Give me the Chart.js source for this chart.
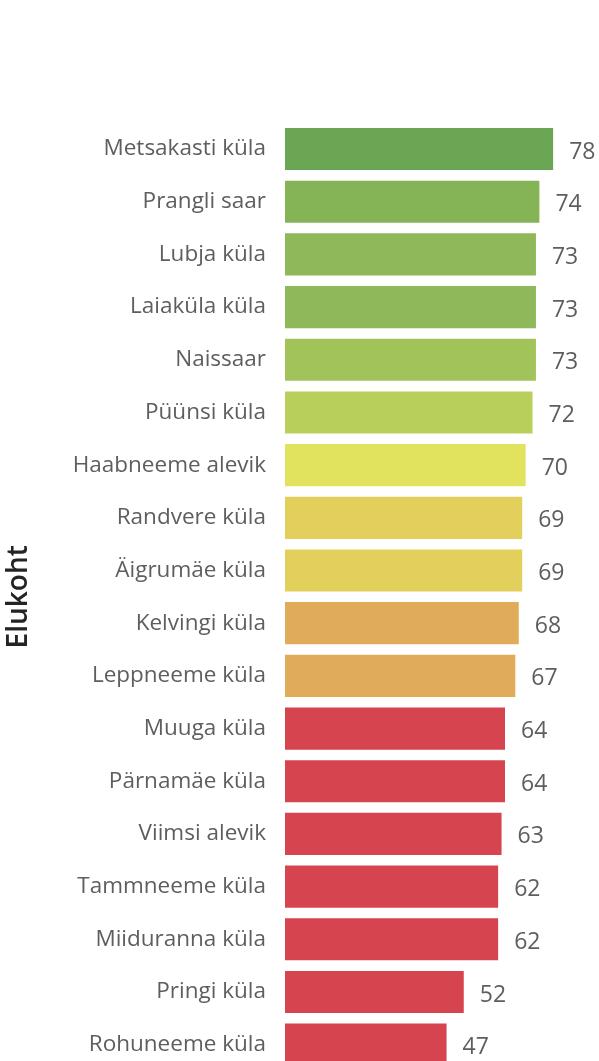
<!DOCTYPE html>
<html>
<head>
<meta charset="utf-8">
<title>Elukoht</title>
<script src="https://cdn.jsdelivr.net/npm/chart.js@4.4.1/dist/chart.umd.min.js"></script>
<style>
    html, body { margin: 0; padding: 0; background: #fff; overflow: hidden; }
    #barChart { position: absolute; left: 0; top: 0; }
</style>
</head>
<body>
<canvas id="barChart" width="599" height="1071"></canvas>
<script>
// places and their scores
const places = [
    'Metsakasti küla', 'Prangli saar', 'Lubja küla', 'Laiaküla küla', 'Naissaar',
    'Püünsi küla', 'Haabneeme alevik', 'Randvere küla', 'Äigrumäe küla', 'Kelvingi küla',
    'Leppneeme küla', 'Muuga küla', 'Pärnamäe küla', 'Viimsi alevik', 'Tammneeme küla',
    'Miiduranna küla', 'Pringi küla', 'Rohuneeme küla'
];
const scores = [78, 74, 73, 73, 73, 72, 70, 69, 69, 68, 67, 64, 64, 63, 62, 62, 52, 47];
const barColors = [
    '#6aa654', '#84b456', '#8fb858', '#8fb858', '#a2c35a',
    '#b9cf5c', '#e1e35f', '#e3cf5c', '#e3cf5c', '#e1ac59',
    '#e1ac59', '#d6454f', '#d6454f', '#d6454f', '#d6454f',
    '#d6454f', '#d6454f', '#d6454f'
];
const axisTitle = 'Elukoht';

const FONT = '"Segoe UI", "Open Sans", sans-serif';

// writes the value just past the end of each bar
const valueLabels = {
    id: 'valueLabels',
    afterDatasetsDraw(chart) {
        const ctx = chart.ctx;
        const meta = chart.getDatasetMeta(0);
        ctx.save();
        ctx.font = '23px ' + FONT;
        ctx.fillStyle = '#605e5c';
        ctx.textAlign = 'left';
        ctx.textBaseline = 'middle';
        meta.data.forEach((bar, i) => {
            ctx.fillText(chart.data.datasets[0].data[i], bar.x + 16, bar.y + 3);
        });
        ctx.restore();
    }
};

new Chart(document.getElementById('barChart'), {
    type: 'bar',
    data: {
        labels: places,
        datasets: [{
            data: scores,
            backgroundColor: barColors,
            borderWidth: 0,
            barPercentage: 0.8,
            categoryPercentage: 1.0
        }]
    },
    options: {
        indexAxis: 'y',
        responsive: false,
        animation: false,
        devicePixelRatio: 1,
        layout: { padding: { top: 122.7, right: 39, bottom: 0, left: 0 } },
        plugins: {
            legend: { display: false },
            tooltip: { enabled: false }
        },
        scales: {
            x: {
                display: false,
                min: 0,
                max: 80
            },
            y: {
                afterFit(scale) {
                    // fixed label column, and let the last row run to the bottom edge
                    scale.width = 285;
                    scale.paddingTop = 0;
                    scale.paddingBottom = 0;
                },
                grid: { display: false, drawTicks: false },
                border: { display: false },
                ticks: {
                    padding: 19,
                    color: '#605e5c',
                    font: { family: FONT, size: 22.5 }
                },
                title: {
                    display: true,
                    text: axisTitle,
                    color: '#252423',
                    padding: { top: 2, bottom: 0 },
                    font: { family: FONT, size: 28, weight: '600' }
                }
            }
        }
    },
    plugins: [valueLabels]
});
</script>
</body>
</html>
